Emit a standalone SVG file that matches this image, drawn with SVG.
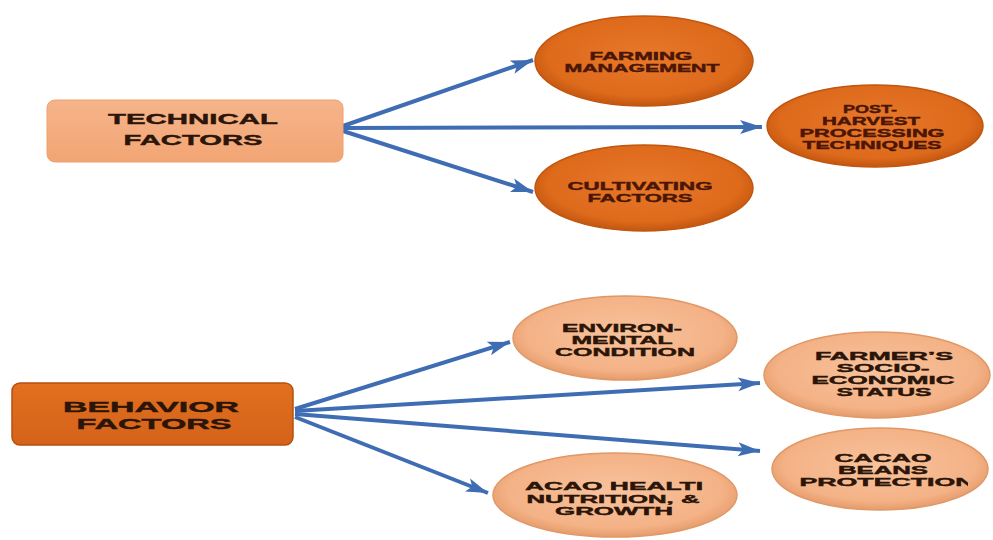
<svg xmlns="http://www.w3.org/2000/svg" width="993" height="540" viewBox="0 0 993 540">
<defs>
<radialGradient id="gDark" cx="50%" cy="45%" r="55%">
<stop offset="0" stop-color="#E8782A"/>
<stop offset="0.8" stop-color="#DE6A1C"/>
<stop offset="1" stop-color="#C2570F"/>
</radialGradient>
<radialGradient id="gLight" cx="50%" cy="45%" r="55%">
<stop offset="0" stop-color="#F8C29C"/>
<stop offset="0.8" stop-color="#F4B286"/>
<stop offset="1" stop-color="#E59C6C"/>
</radialGradient>
<linearGradient id="gBoxLight" x1="0" y1="0" x2="0" y2="1">
<stop offset="0" stop-color="#F6B48A"/>
<stop offset="1" stop-color="#F2A574"/>
</linearGradient>
<linearGradient id="gBoxDark" x1="0" y1="0" x2="0" y2="1">
<stop offset="0" stop-color="#E2701F"/>
<stop offset="1" stop-color="#D4621A"/>
</linearGradient>
<marker id="arr" markerUnits="userSpaceOnUse" markerWidth="24" markerHeight="16" refX="22" refY="8" orient="auto">
<path d="M0,1 L22,8 L0,15 L5,8 Z" fill="#3F6DB4"/>
</marker>
<clipPath id="clipProt"><rect x="780" y="440" width="188" height="60"/></clipPath>
</defs>
<style>
.lnk{fill:none;stroke:#3F6DB4;stroke-width:4;marker-end:url(#arr)}
.dk{fill:url(#gDark);stroke:#C0560F;stroke-width:1.5}
.lt{fill:url(#gLight);stroke:#E09866;stroke-width:1.5}
.t{font-family:"Liberation Sans",Arial,sans-serif;font-weight:bold;text-anchor:middle;stroke-width:0.4}
.s{font-size:10.5px}
.b{font-size:14.5px}
.td{fill:#4A1606;stroke:#4A1606}
.tl{fill:#2A1508;stroke:#2A1508}
</style>
<rect width="993" height="540" fill="#FFFFFF"/>
<g id="connectors">
<path class="lnk" d="M343,126 L533,60"/>
<path class="lnk" d="M343,128 L762,127"/>
<path class="lnk" d="M343,131 L533,192"/>
<path class="lnk" d="M295,409 L510,342"/>
<path class="lnk" d="M295,411 L760,383"/>
<path class="lnk" d="M295,414 L760,451"/>
<path class="lnk" d="M295,417 L488,493"/>
</g>
<g id="technical">
<rect x="47" y="100" width="296" height="62" rx="8" fill="url(#gBoxLight)" stroke="#EDA070" stroke-width="1"/>
<text class="t b tl"><tspan x="193" y="124" textLength="170" lengthAdjust="spacingAndGlyphs">TECHNICAL</tspan><tspan x="193" y="145" textLength="139" lengthAdjust="spacingAndGlyphs">FACTORS</tspan></text>
</g>
<g id="farming">
<ellipse class="dk" cx="644" cy="61" rx="109" ry="45"/>
<text class="t s td"><tspan x="641" y="60" textLength="103" lengthAdjust="spacingAndGlyphs">FARMING</tspan><tspan x="642" y="72" textLength="155" lengthAdjust="spacingAndGlyphs">MANAGEMENT</tspan></text>
</g>
<g id="postharvest">
<ellipse class="dk" cx="875" cy="126" rx="108" ry="41"/>
<text class="t s td"><tspan x="870" y="113" textLength="54" lengthAdjust="spacingAndGlyphs">POST-</tspan><tspan x="871" y="125" textLength="98" lengthAdjust="spacingAndGlyphs">HARVEST</tspan><tspan x="872" y="137" textLength="145" lengthAdjust="spacingAndGlyphs">PROCESSING</tspan><tspan x="872" y="149" textLength="139" lengthAdjust="spacingAndGlyphs">TECHNIQUES</tspan></text>
</g>
<g id="cultivating">
<ellipse class="dk" cx="644" cy="188" rx="109" ry="43"/>
<text class="t s td"><tspan x="640" y="190" textLength="145" lengthAdjust="spacingAndGlyphs">CULTIVATING</tspan><tspan x="640" y="202" textLength="105" lengthAdjust="spacingAndGlyphs">FACTORS</tspan></text>
</g>
<g id="behavior">
<rect x="12" y="383" width="281" height="62" rx="8" fill="url(#gBoxDark)" stroke="#B5500F" stroke-width="1.5"/>
<text class="t b tl"><tspan x="151" y="412" textLength="176" lengthAdjust="spacingAndGlyphs">BEHAVIOR</tspan><tspan x="154" y="429" textLength="155" lengthAdjust="spacingAndGlyphs">FACTORS</tspan></text>
</g>
<g id="environmental">
<ellipse class="lt" cx="625" cy="338" rx="112" ry="42"/>
<text class="t s tl"><tspan x="622" y="332" textLength="120" lengthAdjust="spacingAndGlyphs">ENVIRON-</tspan><tspan x="622" y="344" textLength="101" lengthAdjust="spacingAndGlyphs">MENTAL</tspan><tspan x="625" y="356" textLength="140" lengthAdjust="spacingAndGlyphs">CONDITION</tspan></text>
</g>
<g id="socioeconomic">
<ellipse class="lt" cx="877" cy="375" rx="113" ry="43"/>
<text class="t s tl"><tspan x="884" y="360" textLength="138" lengthAdjust="spacingAndGlyphs">FARMER’S</tspan><tspan x="883" y="372" textLength="93" lengthAdjust="spacingAndGlyphs">SOCIO-</tspan><tspan x="883" y="384" textLength="143" lengthAdjust="spacingAndGlyphs">ECONOMIC</tspan><tspan x="884" y="396" textLength="95" lengthAdjust="spacingAndGlyphs">STATUS</tspan></text>
</g>
<g id="protection">
<ellipse class="lt" cx="880" cy="469" rx="108" ry="41"/>
<text class="t s tl" clip-path="url(#clipProt)"><tspan x="883" y="462" textLength="97" lengthAdjust="spacingAndGlyphs">CACAO</tspan><tspan x="883" y="474" textLength="90" lengthAdjust="spacingAndGlyphs">BEANS</tspan><tspan x="887" y="486" textLength="175" lengthAdjust="spacingAndGlyphs">PROTECTION</tspan></text>
</g>
<g id="health">
<ellipse class="lt" cx="615" cy="495" rx="122" ry="42"/>
<text class="t s tl"><tspan x="614" y="490" textLength="178" lengthAdjust="spacingAndGlyphs">ACAO HEALTI</tspan><tspan x="613" y="502.5" textLength="173" lengthAdjust="spacingAndGlyphs">NUTRITION, &amp;</tspan><tspan x="614" y="515" textLength="118" lengthAdjust="spacingAndGlyphs">GROWTH</tspan></text>
</g>
</svg>
